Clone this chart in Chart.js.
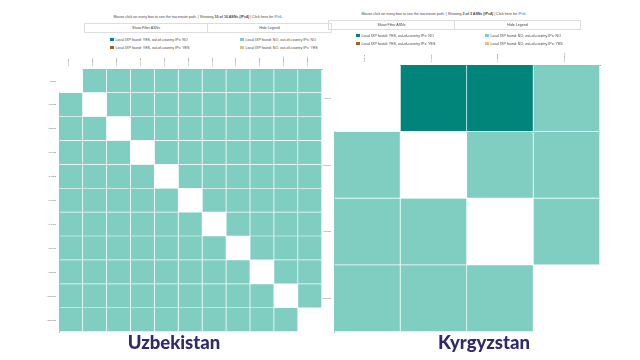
<!DOCTYPE html>
<html><head><meta charset="utf-8">
<script src="https://cdn.jsdelivr.net/npm/chart.js@4/dist/chart.umd.min.js"></script>
<style>
html,body{margin:0;padding:0;background:#fff;}
body{width:640px;height:360px;position:relative;overflow:hidden;font-family:"Liberation Sans",Arial,sans-serif;color:#444;}
.abs{position:absolute;}
.hdr{font-size:3.6px;white-space:nowrap;text-align:center;}
.hdr a{color:#2a6fb5;text-decoration:none;}
.btn{border:0.6px solid #ddd;box-sizing:border-box;font-size:3.6px;text-align:center;color:#444;display:flex;align-items:center;justify-content:center;}
.leg{font-size:3.6px;white-space:nowrap;display:flex;align-items:center;color:#444;}
.sw{display:inline-block;width:3.5px;height:3.5px;margin-right:2px;}
.title{font-family:Lato,"Open Sans",sans-serif;font-weight:900;font-size:18.5px;color:#2e2a6c;text-align:center;width:200px;}
</style></head>
<body>
<!-- Left panel -->
<div class="abs hdr" style="left:98px;top:15px;width:200px;">Mouse click on every box to see the traceroute path. | Showing <b>10 of 10 ASNs (IPv4)</b> | Click here for <a>IPv6</a>.</div>
<div class="abs btn" style="left:84px;top:23px;width:124px;height:10px;">Show Filter ASNs</div>
<div class="abs btn" style="left:208px;top:23px;width:124px;height:10px;border-left:none;">Hide Legend</div>
<div id="legL"></div>
<div class="abs" style="left:0;top:50px;width:330px;height:290px;"><canvas id="cL" width="330" height="290"></canvas></div>
<div class="abs title" style="left:74px;top:331px;">Uzbekistan</div>

<!-- Right panel -->
<div class="abs hdr" style="left:344px;top:12px;width:200px;">Mouse click on every box to see the traceroute path. | Showing <b>3 of 3 ASNs (IPv4)</b> | Click here for <a>IPv6</a>.</div>
<div class="abs btn" style="left:328px;top:20px;width:127px;height:10px;">Show Filter ASNs</div>
<div class="abs btn" style="left:455px;top:20px;width:126px;height:10px;border-left:none;">Hide Legend</div>
<div id="legR"></div>
<div class="abs" style="left:320px;top:40px;width:290px;height:300px;"><canvas id="cR" width="290" height="300"></canvas></div>
<div class="abs title" style="left:384px;top:331px;">Kyrgyzstan</div>

<script>
// Legend categories and colours
const legendLabels = [
  "Local IXP found: YES, out-of-country IPs: NO",
  "Local IXP found: YES, out-of-country IPs: YES",
  "Local IXP found: NO, out-of-country IPs: NO",
  "Local IXP found: NO, out-of-country IPs: YES"
];
const legendColors = ["#01857a", "#a6611a", "#80cdc1", "#dfc27d"];
// status code: 0 = same ASN (empty), 1..4 = legend categories above
const statusColors = ["#ffffff", "#01857a", "#a6611a", "#80cdc1", "#dfc27d"];

// Uzbekistan
const uzLabels = ["AS8193","AS8193s","AS28910","AS34718","AS41202","AS43060","AS48163","AS57016","AS58093","AS202660","AS206026"];
const uzStatus = [
  [0,3,3,3,3,3,3,3,3,3,3],
  [3,0,3,3,3,3,3,3,3,3,3],
  [3,3,0,3,3,3,3,3,3,3,3],
  [3,3,3,0,3,3,3,3,3,3,3],
  [3,3,3,3,0,3,3,3,3,3,3],
  [3,3,3,3,3,0,3,3,3,3,3],
  [3,3,3,3,3,3,0,3,3,3,3],
  [3,3,3,3,3,3,3,0,3,3,3],
  [3,3,3,3,3,3,3,3,0,3,3],
  [3,3,3,3,3,3,3,3,3,0,3],
  [3,3,3,3,3,3,3,3,3,3,0]
];

// Kyrgyzstan
const kgLabels = ["AS8449","AS12764","AS39659","AS205771"];
const kgStatus = [
  [0,1,1,3],
  [3,0,3,3],
  [3,3,0,3],
  [3,3,3,0]
];

function buildLegend(id, left, top, colGap, rowGap){
  const el = document.getElementById(id);
  [0,1,2,3].forEach(i=>{
    const col = i < 2 ? 0 : 1, row = i % 2;
    const d = document.createElement('div');
    d.className = 'abs leg';
    d.style.left = (left + col*colGap) + 'px';
    d.style.top = (top + row*rowGap) + 'px';
    d.innerHTML = '<span class="sw" style="background:'+legendColors[i]+'"></span>' + legendLabels[i];
    el.appendChild(d);
  });
}
buildLegend('legL', 110, 37.5, 130, 8);
buildLegend('legR', 356, 33.5, 129, 8);

function makeMatrix(canvasId, labels, status, yAxisWidth, xAxisHeight, pad){
  const n = labels.length;
  const datasets = labels.map((colLabel, j) => ({
    label: colLabel,
    data: labels.map(() => 1),
    backgroundColor: status.map(row => statusColors[row[j]]),
    borderColor: 'rgba(255,255,255,0.45)',
    borderWidth: {top:0,left:0,right:1,bottom:1},
    borderSkipped: false,
    categoryPercentage: 1,
    barPercentage: 1,
    xAxisID: 'x',
    yAxisID: 'y'
  }));
  new Chart(document.getElementById(canvasId), {
    type: 'bar',
    data: { labels: labels, datasets: datasets },
    options: {
      indexAxis: 'y',
      responsive: false,
      animation: false,
      layout: { padding: pad },
      plugins: { legend: {display:false}, tooltip: {enabled:false} },
      scales: {
        x: { type:'linear', stacked:true, min:0, max:n, display:false },
        x2: {
          type:'category', labels: labels, position:'top', offset:true,
          grid: { drawOnChartArea:false, drawTicks:false },
          border: { display:true, color:'#9a9a9a', width:0.8 },
          ticks: { font:{size:2, family:'Liberation Sans'}, color:'#666', minRotation:90, maxRotation:90, padding:3, autoSkip:false },
          afterFit: s => { s.height = xAxisHeight; }
        },
        y: {
          type:'category', stacked:true, offset:true,
          grid: { drawOnChartArea:false, drawTicks:false },
          border: { display:true, color:'#9a9a9a', width:0.8 },
          ticks: { font:{size:2, family:'Liberation Sans'}, color:'#666', padding:3, autoSkip:false },
          afterFit: s => { s.width = yAxisWidth; }
        }
      }
    }
  });
}

makeMatrix('cL', uzLabels, uzStatus, 59, 19, {left:0, right:8, top:0, bottom:8});
makeMatrix('cR', kgLabels, kgStatus, 14, 25, {left:0, right:10, top:0, bottom:8});
</script>
</body></html>
